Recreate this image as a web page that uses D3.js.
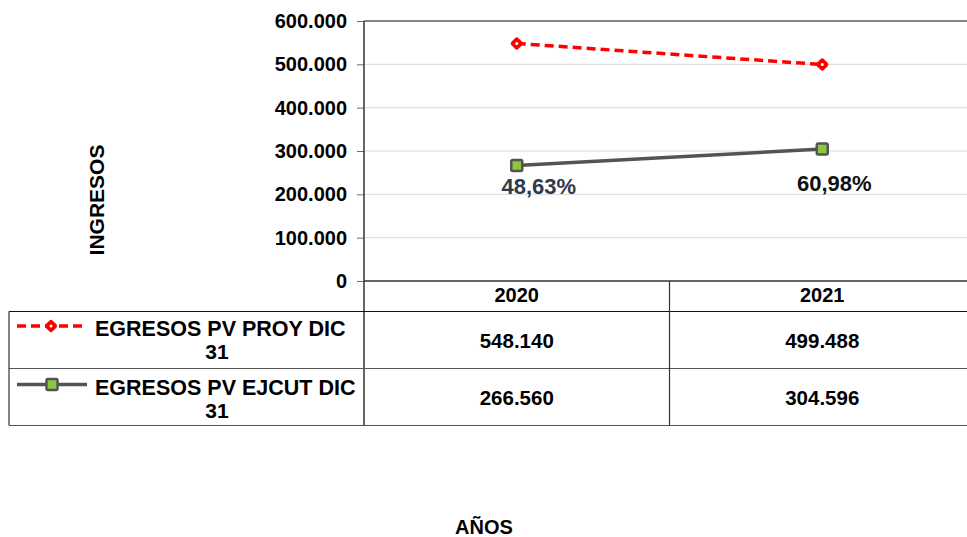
<!DOCTYPE html>
<html>
<head>
<meta charset="utf-8">
<script src="https://cdn.jsdelivr.net/npm/d3@7"></script>
<style>
  body { margin: 0; background: #fff; overflow: hidden; }
  text { font-family: "Liberation Sans", Arial, sans-serif; font-weight: bold; }
</style>
</head>
<body>
<script>
// chart data
var years = ["2020", "2021"];
var seriesNames = ["EGRESOS PV PROY DIC 31", "EGRESOS PV EJCUT DIC 31"];
var proyValues = [548140, 499488];
var ejcutValues = [266560, 304596];
var pctLabels = ["48,63%", "60,98%"];
var yTicks = [0, 100000, 200000, 300000, 400000, 500000, 600000];

var fmt = function(v) { return d3.format(",")(v).replace(/,/g, "."); };

var svg = d3.select("body").append("svg")
  .attr("width", 967)
  .attr("height", 537);

// plot area
var plotLeft = 364, plotTop = 21, plotBottom = 281, bandW = 305.5;

var x = d3.scaleBand()
  .domain(years)
  .range([plotLeft, plotLeft + bandW * years.length]);

var y = d3.scaleLinear()
  .domain([0, 600000])
  .range([plotBottom, plotTop]);

var tableRight = plotLeft + bandW * 2;

// gridlines
svg.append("g")
  .selectAll("line")
  .data(yTicks.slice(1, -1))
  .enter().append("line")
    .attr("x1", plotLeft).attr("x2", tableRight)
    .attr("y1", function(d) { return y(d); })
    .attr("y2", function(d) { return y(d); })
    .attr("stroke", "#d9d9d9")
    .attr("stroke-width", 1);

// top border
svg.append("line")
  .attr("x1", plotLeft).attr("x2", tableRight)
  .attr("y1", plotTop).attr("y2", plotTop)
  .attr("stroke", "#868686").attr("stroke-width", 2);

// y axis
var yAxis = d3.axisLeft(y)
  .tickValues(yTicks)
  .tickSize(7)
  .tickPadding(10)
  .tickFormat(fmt);

var ya = svg.append("g")
  .attr("transform", "translate(" + plotLeft + ",0)")
  .call(yAxis);
ya.select(".domain").remove();
ya.selectAll("line").attr("stroke", "#6b6b6b");
ya.selectAll("text")
  .style("font-size", "20px")
  .attr("fill", "#000");

// table lines
var tableLeft = 9;
var rowY = [plotBottom, 311.5, 368.5, 425.5];

svg.append("line")
  .attr("x1", plotLeft).attr("x2", plotLeft)
  .attr("y1", plotTop).attr("y2", rowY[3])
  .attr("stroke", "#333").attr("stroke-width", 1.5);

svg.append("line")
  .attr("x1", plotLeft).attr("x2", tableRight)
  .attr("y1", plotBottom).attr("y2", plotBottom)
  .attr("stroke", "#333").attr("stroke-width", 1.5);

svg.append("line")
  .attr("x1", tableLeft).attr("x2", tableRight)
  .attr("y1", rowY[1]).attr("y2", rowY[1])
  .attr("stroke", "#111").attr("stroke-width", 1.2);

svg.append("line")
  .attr("x1", tableLeft).attr("x2", tableRight)
  .attr("y1", rowY[2]).attr("y2", rowY[2])
  .attr("stroke", "#555").attr("stroke-width", 1.2);

svg.append("line")
  .attr("x1", tableLeft).attr("x2", tableRight)
  .attr("y1", rowY[3]).attr("y2", rowY[3])
  .attr("stroke", "#555").attr("stroke-width", 1.2);

svg.append("line")
  .attr("x1", tableLeft).attr("x2", tableLeft)
  .attr("y1", rowY[1]).attr("y2", rowY[3])
  .attr("stroke", "#333").attr("stroke-width", 1.2);

svg.append("line")
  .attr("x1", x("2021")).attr("x2", x("2021"))
  .attr("y1", plotBottom).attr("y2", rowY[3])
  .attr("stroke", "#333").attr("stroke-width", 1.2);

// header years
svg.selectAll("text.year")
  .data(years)
  .enter().append("text")
    .attr("class", "year")
    .attr("x", function(d) { return x(d) + x.bandwidth() / 2; })
    .attr("y", 302)
    .attr("text-anchor", "middle")
    .style("font-size", "20px")
    .text(function(d) { return d; });

// table values
[proyValues, ejcutValues].forEach(function(vals, r) {
  svg.selectAll("text.val" + r)
    .data(vals)
    .enter().append("text")
      .attr("class", "val" + r)
      .attr("x", function(d, i) { return x(years[i]) + x.bandwidth() / 2; })
      .attr("y", (rowY[r + 1] + rowY[r + 2]) / 2 + 8)
      .attr("text-anchor", "middle")
      .style("font-size", "20.5px")
      .text(function(d) { return fmt(d); });
});

var cx = function(d, i) { return x(years[i]) + x.bandwidth() / 2; };

// red dashed series
var line = d3.line()
  .x(function(d, i) { return cx(d, i); })
  .y(function(d) { return y(d); });

svg.append("path")
  .datum(proyValues)
  .attr("d", line)
  .attr("fill", "none")
  .attr("stroke", "#ff0000")
  .attr("stroke-width", 3.5)
  .attr("stroke-dasharray", "9,5");

// chunky red diamond with a small white centre
function redMarker(g, px, py) {
  g.append("rect")
    .attr("x", -5).attr("y", -5)
    .attr("width", 10).attr("height", 10)
    .attr("rx", 2.5)
    .attr("transform", "translate(" + px + "," + py + ") rotate(45)")
    .attr("fill", "#ff0000");
  g.append("circle")
    .attr("cx", px).attr("cy", py).attr("r", 1.5)
    .attr("fill", "#fff");
}

proyValues.forEach(function(d, i) { redMarker(svg, cx(d, i), y(d)); });

// gray solid series
svg.append("path")
  .datum(ejcutValues)
  .attr("d", line)
  .attr("fill", "none")
  .attr("stroke", "#545454")
  .attr("stroke-width", 3.5);

function grayMarker(g, px, py) {
  g.append("rect")
    .attr("x", px - 5.5).attr("y", py - 5.5)
    .attr("width", 11).attr("height", 11)
    .attr("rx", 1.5)
    .attr("fill", "#8dc63f")
    .attr("stroke", "#545454")
    .attr("stroke-width", 2.5);
}

ejcutValues.forEach(function(d, i) { grayMarker(svg, cx(d, i), y(d)); });

// percentage labels
var labelDx = [22, 12];
var labelDy = [28.5, 42];
var labelColor = ["#2e3a4b", "#111"];
svg.selectAll("text.pct")
  .data(pctLabels)
  .enter().append("text")
    .attr("class", "pct")
    .attr("x", function(d, i) { return cx(d, i) + labelDx[i]; })
    .attr("y", function(d, i) { return y(ejcutValues[i]) + labelDy[i]; })
    .attr("text-anchor", "middle")
    .attr("fill", function(d, i) { return labelColor[i]; })
    .style("font-size", "22px")
    .text(function(d) { return d; });

// legend keys inside table
var keyY = [326, 384.5];
// red key
svg.append("line")
  .attr("x1", 17).attr("x2", 87)
  .attr("y1", keyY[0]).attr("y2", keyY[0])
  .attr("stroke", "#ff0000").attr("stroke-width", 3.5)
  .attr("stroke-dasharray", "9,5");
redMarker(svg, 51, keyY[0]);
// gray key
svg.append("line")
  .attr("x1", 17).attr("x2", 87)
  .attr("y1", keyY[1]).attr("y2", keyY[1])
  .attr("stroke", "#545454").attr("stroke-width", 3.5);
grayMarker(svg, 52, keyY[1]);

seriesNames.forEach(function(name, i) {
  var parts = name.split(" ");
  var first = parts.slice(0, -1).join(" ");
  var last = parts[parts.length - 1];
  svg.append("text")
    .attr("x", 95)
    .attr("y", keyY[i] + 10)
    .style("font-size", "21.5px")
    .text(first);
  svg.append("text")
    .attr("x", 217)
    .attr("y", keyY[i] + 33)
    .attr("text-anchor", "middle")
    .style("font-size", "21px")
    .text(last);
});

// axis titles
svg.append("text")
  .attr("transform", "translate(104,200) rotate(-90)")
  .attr("text-anchor", "middle")
  .style("font-size", "21px")
  .text("INGRESOS");

svg.append("text")
  .attr("x", 484)
  .attr("y", 534)
  .attr("text-anchor", "middle")
  .style("font-size", "20px")
  .text("AÑOS");
</script>
</body>
</html>
